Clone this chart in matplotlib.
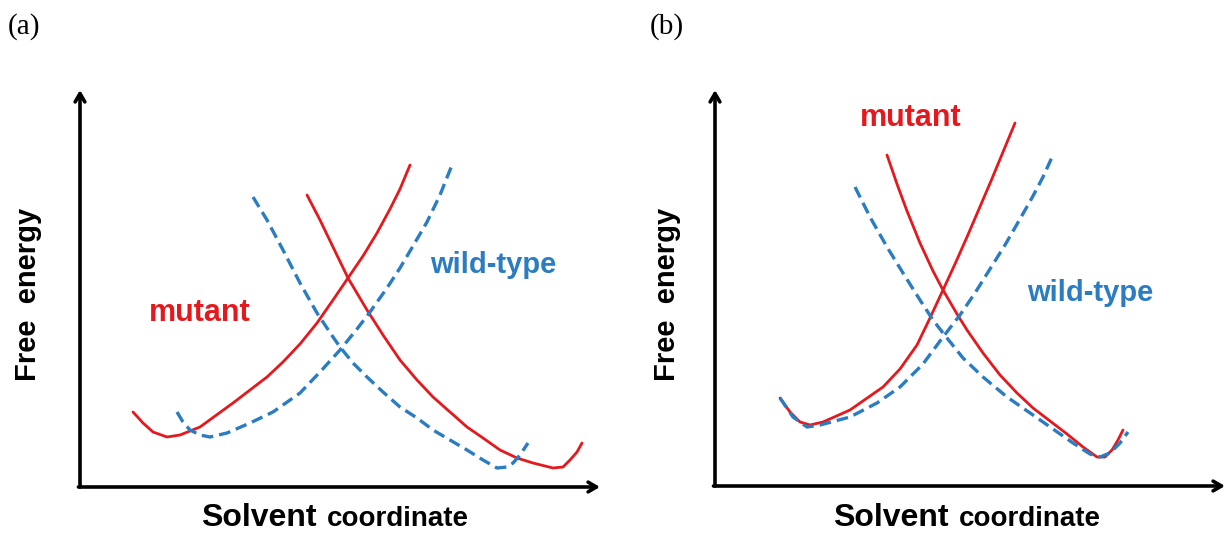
import numpy as np
import matplotlib.pyplot as plt

# Points read off the picture, in pixels measured from each panel's axis origin
# (x to the right, y upward).

# panel (a)
a_mut_left_x = [53, 63, 73, 87, 100, 120, 153, 187, 203, 220, 237, 253, 268, 283, 297, 310, 320, 330]
a_mut_left_y = [75, 64, 55, 50, 52, 60, 84, 110, 125, 143, 164, 187, 209, 231, 254, 278, 298, 322]
a_mut_right_x = [227, 240, 253, 268, 287, 303, 320, 337, 353, 370, 387, 403, 420, 437, 453, 473, 483, 490, 497, 502]
a_mut_right_y = [292, 267, 240, 209, 177, 152, 127, 107, 90, 75, 60, 49, 37, 29, 24, 19, 20, 27, 35, 44]
a_wt_left_x = [173, 187, 203, 220, 237, 253, 260, 273, 287, 303, 320, 337, 353, 370, 387, 403, 417, 427, 433, 440, 448]
a_wt_left_y = [290, 267, 237, 204, 174, 150, 140, 124, 110, 95, 80, 69, 57, 47, 37, 27, 19, 20, 24, 32, 44]
a_wt_right_x = [97, 103, 110, 120, 130, 147, 170, 193, 220, 240, 260, 277, 290, 307, 320, 333, 347, 360, 372]
a_wt_right_y = [75, 65, 57, 52, 50, 54, 64, 75, 94, 115, 137, 158, 175, 199, 219, 241, 265, 292, 322]

# panel (b)
b_mut_left_x = [65, 75, 85, 95, 108, 135, 168, 185, 202, 215, 228, 240, 252, 264, 276, 288, 300]
b_mut_left_y = [88, 74, 64, 61, 64, 76, 99, 117, 141, 168, 196, 222, 249, 277, 305, 334, 363]
b_mut_right_x = [172, 182, 192, 205, 218, 228, 242, 252, 268, 285, 302, 318, 335, 352, 368, 382, 390, 397, 403, 408]
b_mut_right_y = [331, 302, 275, 243, 215, 196, 172, 156, 133, 111, 93, 78, 65, 52, 39, 29, 29, 36, 46, 56]
b_wt_left_x = [140, 155, 172, 188, 205, 218, 228, 248, 268, 292, 318, 338, 358, 375, 385, 395, 405, 413]
b_wt_left_y = [299, 269, 239, 213, 186, 166, 153, 128, 109, 89, 71, 57, 43, 32, 29, 33, 43, 54]
b_wt_right_x = [65, 78, 92, 105, 135, 162, 185, 208, 228, 245, 260, 275, 290, 305, 318, 328, 338]
b_wt_right_y = [88, 69, 59, 61, 69, 83, 99, 122, 149, 171, 193, 217, 241, 267, 290, 309, 331]

# layout, in figure pixels
panels = [
    dict(tag="(a)", origin=(80, 487), size=(520, 397),
         mut=[(a_mut_left_x, a_mut_left_y), (a_mut_right_x, a_mut_right_y)],
         wt=[(a_wt_left_x, a_wt_left_y), (a_wt_right_x, a_wt_right_y)],
         mut_lab=(120, 174), wt_lab=(413, 222), tag_x=8, ylab_x=28, xlab_split=322),
    dict(tag="(b)", origin=(715, 486), size=(510, 396),
         mut=[(b_mut_left_x, b_mut_left_y), (b_mut_right_x, b_mut_right_y)],
         wt=[(b_wt_left_x, b_wt_left_y), (b_wt_right_x, b_wt_right_y)],
         mut_lab=(196, 368), wt_lab=(375, 193), tag_x=650, ylab_x=667, xlab_split=954),
]

RED = "#E5191D"
BLUE = "#2B7CC0"
W, H = 1225, 533
SANS = "Liberation Sans"

fig = plt.figure(figsize=(W / 100, H / 100), dpi=100)

for p in panels:
    x0, y0 = p["origin"]
    w, h = p["size"]
    ax = fig.add_axes([x0 / W, (H - y0) / H, w / W, h / H])
    ax.set_xlim(0, w)
    ax.set_ylim(0, h)
    ax.axis("off")

    for xs, ys in p["mut"]:
        ax.plot(xs, ys, color=RED, lw=2.0, solid_capstyle="round",
                solid_joinstyle="round")
    for xs, ys in p["wt"]:
        ax.plot(xs, ys, color=BLUE, lw=2.4, ls=(0, (3.5, 1.8)),
                dash_capstyle="butt", dash_joinstyle="round")

    # axis arrows
    arrow = dict(arrowstyle="->,head_length=0.6,head_width=0.35", lw=2.6,
                 color="black", shrinkA=0, shrinkB=0)
    ax.annotate("", xy=(0, 1), xytext=(0, 0), xycoords="axes fraction",
                arrowprops=arrow)
    ax.annotate("", xy=(1, 0), xytext=(-0.003, 0), xycoords="axes fraction",
                arrowprops=arrow)

    ax.text(*p["mut_lab"], "mutant", color=RED, fontsize=22,
            fontweight="bold", family=SANS, ha="center", va="center")
    ax.text(*p["wt_lab"], "wild-type", color=BLUE, fontsize=21,
            fontweight="bold", family=SANS, ha="center", va="center")

    # panel tag, y label and x label
    fig.text(p["tag_x"] / W, 1 - 27 / H, p["tag"], fontsize=21,
             family="Liberation Serif", ha="left", va="center")
    fig.text(p["ylab_x"] / W, 1 - 294 / H, "Free  energy", rotation=90,
             fontsize=21, fontweight="bold", family=SANS,
             ha="center", va="center")
    fig.text((p["xlab_split"] - 5) / W, 1 - 526 / H, "Solvent", fontsize=23,
             fontweight="bold", family=SANS, ha="right", va="baseline")
    fig.text((p["xlab_split"] + 5) / W, 1 - 526 / H, "coordinate",
             fontsize=20, fontweight="bold", family=SANS,
             ha="left", va="baseline")

fig.savefig("out.png", dpi=100)
